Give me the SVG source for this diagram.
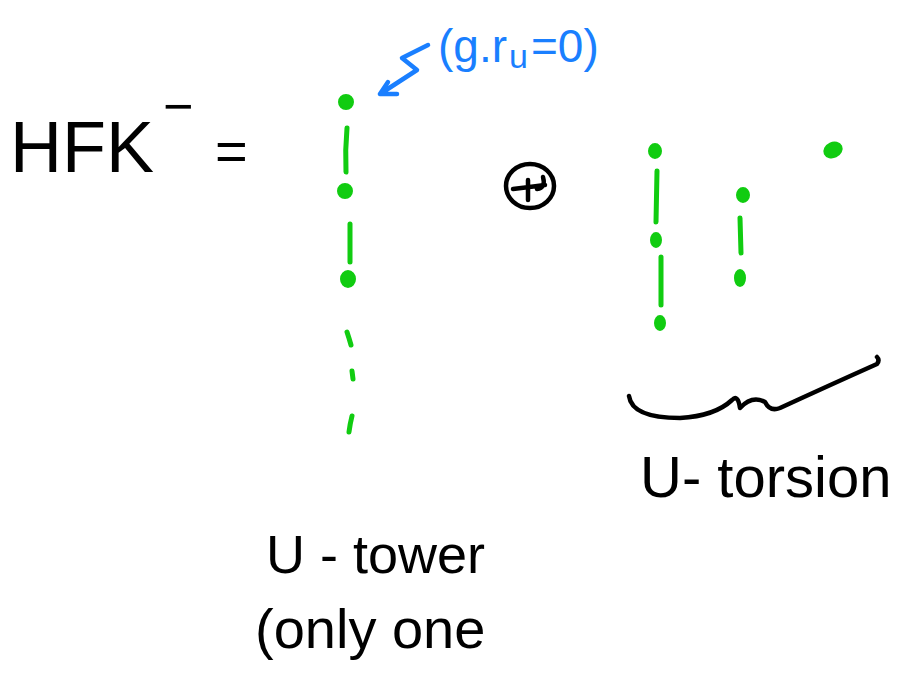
<svg xmlns="http://www.w3.org/2000/svg" width="900" height="673" viewBox="0 0 900 673">
<style>
.ink{fill:none;stroke:#000;stroke-width:4.5;stroke-linecap:round;stroke-linejoin:round}
.g{fill:none;stroke:#11cc11;stroke-width:5;stroke-linecap:round}
.dot{fill:#11cc11;stroke:#11cc11;stroke-width:2}
.blue{fill:none;stroke:#1a7fff;stroke-width:4.5;stroke-linecap:round;stroke-linejoin:round}
.t{font-family:"Liberation Sans",Arial,sans-serif;fill:#000}
.tb{font-family:"Liberation Sans",Arial,sans-serif;fill:#1a7fff}
</style>
<rect width="900" height="673" fill="#fff"/>
<g id="hfk">
<text class="t" x="10" y="172" font-size="72">HFK</text>
<text class="t" x="163" y="124" font-size="52">−</text>
<text class="t" x="215" y="170" font-size="56">=</text>
</g>
<g id="label-gr">
<text class="tb" x="438" y="62" font-size="46">(g.r</text>
<text class="tb" x="509" y="68" font-size="34">u</text>
<text class="tb" x="531" y="62" font-size="46">=0)</text>
</g>
<g id="tower">
<ellipse class="dot" cx="346" cy="102" rx="7" ry="7"/>
<ellipse class="dot" cx="345" cy="191" rx="7" ry="7"/>
<ellipse class="dot" cx="348" cy="279" rx="7" ry="8"/>
</g>
<g id="oplus">
<ellipse class="ink" cx="530" cy="186" rx="24" ry="22"/>
<path class="ink" d="M513 189 Q530 187 545 185 M543 177 Q546 188 537 189 M528 180 L528 200"/>
</g>
<g id="torsion1">
<ellipse class="dot" cx="655" cy="151" rx="6" ry="7"/>
<ellipse class="dot" cx="656" cy="240" rx="5" ry="7"/>
<ellipse class="dot" cx="660" cy="323" rx="5" ry="7"/>
</g>
<g id="torsion2">
<ellipse class="dot" cx="743" cy="195" rx="6" ry="7"/>
<ellipse class="dot" cx="740" cy="278" rx="5" ry="8"/>
</g>
<g id="torsion3">
<ellipse class="dot" cx="833" cy="150" rx="9" ry="7" transform="rotate(-25 833 150)"/>
</g>
<g id="connectors">
<path class="blue" d="M428 45 L402 58 L417 70 L380 94 M380 94 L397 94 M380 94 L388 82"/>
<path class="g" d="M347 128 Q345 150 346 172"/>
<path class="g" d="M350 224 L350 262"/>
<path class="g" d="M347 332 Q349 338 351 345"/>
<path class="g" d="M352 371 L353 379"/>
<path class="g" d="M352 416 Q350 424 349 432"/>
<path class="g" d="M657 171 L656 222"/>
<path class="g" d="M661 257 L661 305"/>
<path class="g" d="M740 218 L741 253"/>
</g>
<g id="brace">
<path class="ink" d="M629 396 Q632 418 680 418 Q715 416 732 400 Q738 394 740 408 Q752 395 765 402 Q770 412 780 408 Q830 385 877 364 Q880 360 877 357"/>
</g>
<g id="labels">
<text class="t" x="640" y="497" font-size="58">U- torsion</text>
<text class="t" x="266" y="573" font-size="54">U - tower</text>
<text class="t" x="255" y="648" font-size="56">(only one</text>
</g>
</svg>
